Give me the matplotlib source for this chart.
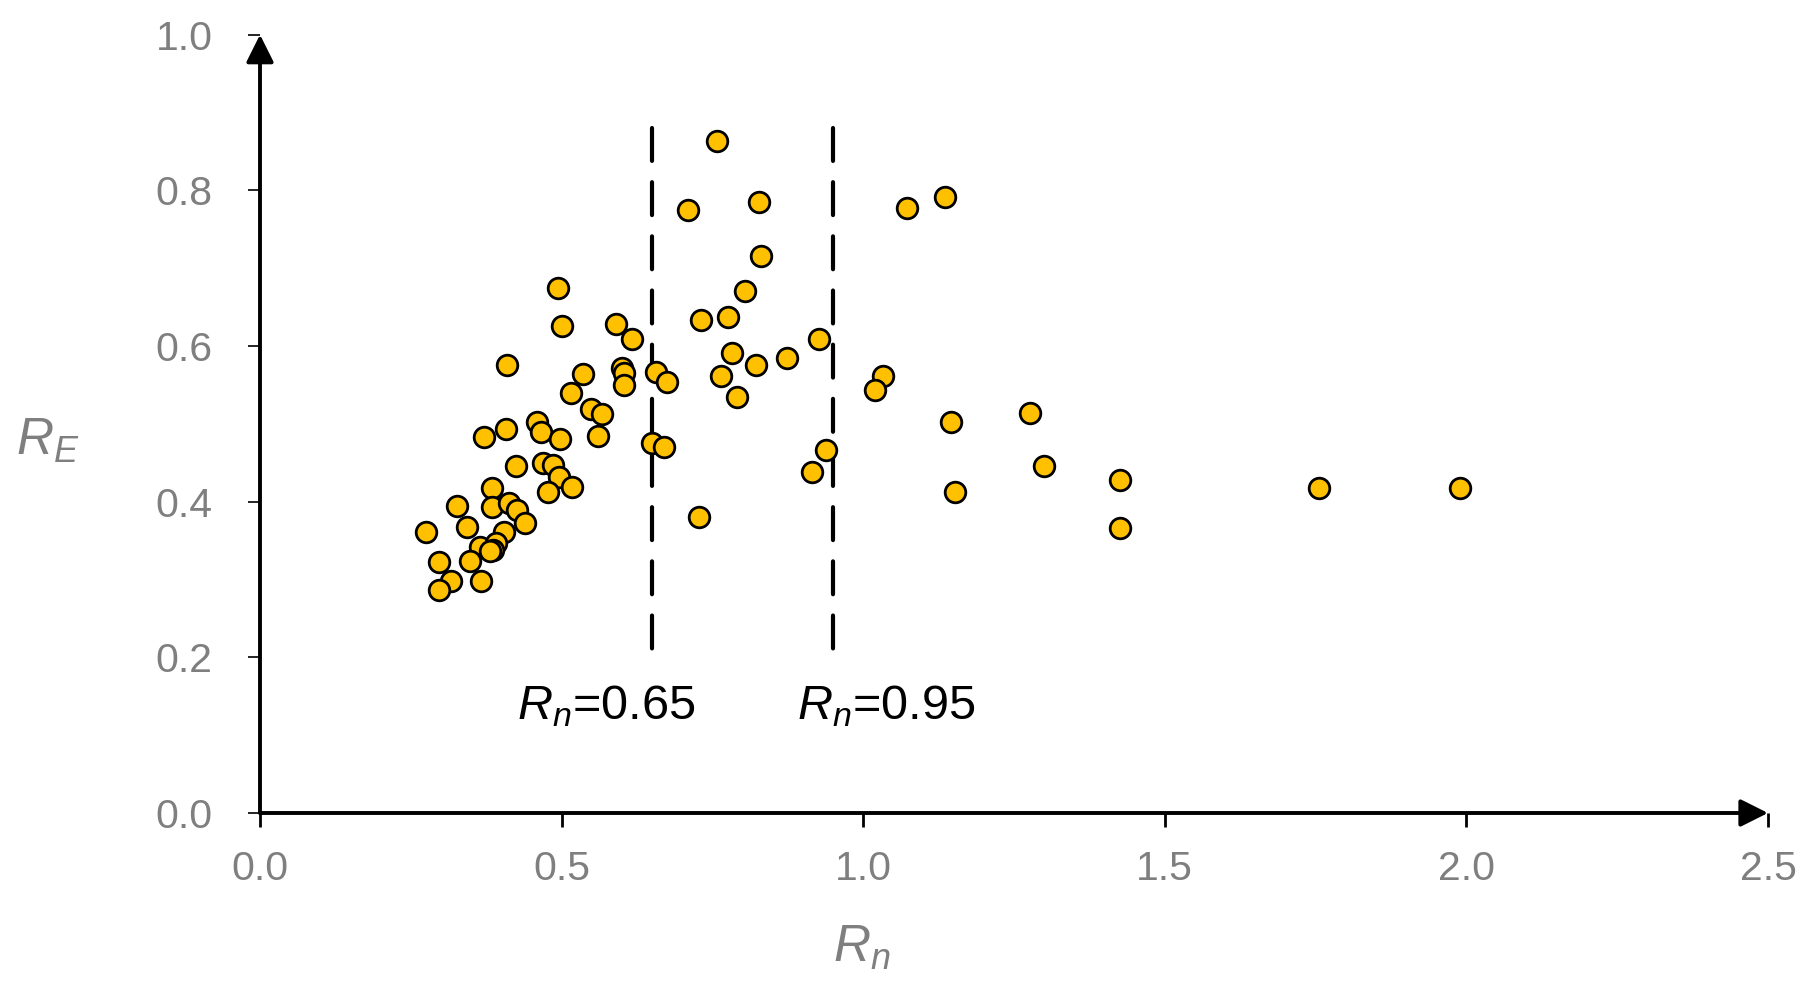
import matplotlib
matplotlib.use("Agg")
import matplotlib.pyplot as plt

plt.rcParams['font.family'] = ['Liberation Sans', 'DejaVu Sans']
plt.rcParams['mathtext.fontset'] = 'custom'
plt.rcParams['mathtext.rm'] = 'Liberation Sans'
plt.rcParams['mathtext.it'] = 'Liberation Sans:italic'

# ---- data ----
rn = [1.990, 1.756, 1.426, 1.426, 1.300, 1.276, 1.146, 1.153, 1.136, 1.073,
      1.033, 1.020, 0.939, 0.915, 0.926, 0.874, 0.757, 0.709, 0.827, 0.831,
      0.804, 0.731, 0.776, 0.783, 0.823, 0.764, 0.791, 0.727, 0.650, 0.670,
      0.657, 0.674, 0.616, 0.591, 0.494, 0.501, 0.409, 0.535, 0.600, 0.603,
      0.603, 0.516, 0.548, 0.567, 0.560, 0.372, 0.408, 0.459, 0.466, 0.497,
      0.424, 0.469, 0.485, 0.495, 0.478, 0.518, 0.385, 0.326, 0.385, 0.413,
      0.426, 0.439, 0.343, 0.276, 0.405, 0.365, 0.392, 0.386, 0.382, 0.297,
      0.348, 0.316, 0.297, 0.366]
re_ = [0.417, 0.417, 0.428, 0.366, 0.446, 0.514, 0.502, 0.412, 0.792, 0.777,
       0.561, 0.543, 0.466, 0.438, 0.609, 0.584, 0.864, 0.775, 0.785, 0.716,
       0.671, 0.633, 0.637, 0.591, 0.576, 0.562, 0.535, 0.380, 0.475, 0.470,
       0.566, 0.554, 0.609, 0.628, 0.675, 0.626, 0.576, 0.564, 0.572, 0.565,
       0.550, 0.540, 0.519, 0.513, 0.484, 0.483, 0.494, 0.502, 0.490, 0.480,
       0.446, 0.450, 0.447, 0.432, 0.413, 0.419, 0.418, 0.394, 0.393, 0.398,
       0.389, 0.373, 0.367, 0.361, 0.361, 0.342, 0.347, 0.338, 0.336, 0.323,
       0.324, 0.298, 0.287, 0.298]

thresholds = [0.65, 0.95]
threshold_labels = [r'$R_n$=0.65', r'$R_n$=0.95']
threshold_label_x = [0.426, 0.890]
threshold_label_y = 0.121
dash_span = (0.880, 0.202)

xticks = [0.0, 0.5, 1.0, 1.5, 2.0, 2.5]
yticks = [0.0, 0.2, 0.4, 0.6, 0.8, 1.0]

gray = '#7f7f7f'

fig = plt.figure(figsize=(18.14, 9.91), dpi=100)
ax = fig.add_axes([0.14333, 0.17962, 0.83131, 0.78537])
ax.set_xlim(0, 2.5)
ax.set_ylim(0, 1.0)

for s in ['top', 'right', 'left', 'bottom']:
    ax.spines[s].set_visible(False)

# axis arrows
arrow_style = '-|>,head_length=0.8,head_width=0.4'
ax.annotate('', xy=(1, 0), xytext=(0, 0), xycoords='axes fraction',
            textcoords='axes fraction',
            arrowprops=dict(arrowstyle=arrow_style, lw=2.8, color='black',
                            mutation_scale=21, shrinkA=0, shrinkB=0),
            annotation_clip=False, zorder=5)
ax.annotate('', xy=(0, 1), xytext=(0, 0), xycoords='axes fraction',
            textcoords='axes fraction',
            arrowprops=dict(arrowstyle=arrow_style, lw=2.8, color='black',
                            mutation_scale=21, shrinkA=0, shrinkB=0),
            annotation_clip=False, zorder=5)

ax.set_xticks(xticks)
ax.set_yticks(yticks)
ax.set_xticklabels([f'{v:.1f}' for v in xticks])
ax.set_yticklabels([f'{v:.1f}' for v in yticks])
ax.tick_params(axis='x', direction='out', length=10, width=2, color='black',
               labelsize=29.5, labelcolor=gray, pad=17)
ax.tick_params(axis='y', direction='out', length=9, width=1.2, color='black',
               labelsize=29.5, labelcolor=gray, pad=25)

# threshold dashed lines
for xv in thresholds:
    ax.plot([xv, xv], list(dash_span), color='black', lw=3.0,
            linestyle=(0, (7.9, 5.1)), dash_capstyle='round', zorder=2)

for lab, lx in zip(threshold_labels, threshold_label_x):
    ax.text(lx, threshold_label_y, lab, fontsize=35, color='black',
            ha='left', va='baseline')

ax.scatter(rn, re_, s=220, c='#FFC000', edgecolors='black', linewidths=2.0,
           zorder=3, clip_on=False)

fig.text(16 / 1814, 1 - 455 / 991, r'$R_E$', fontsize=37, color=gray,
         ha='left', va='baseline')
fig.text(862 / 1814, 1 - 962 / 991, r'$R_n$', fontsize=37, color=gray,
         ha='center', va='baseline')

fig.savefig('out.png', dpi=100)
